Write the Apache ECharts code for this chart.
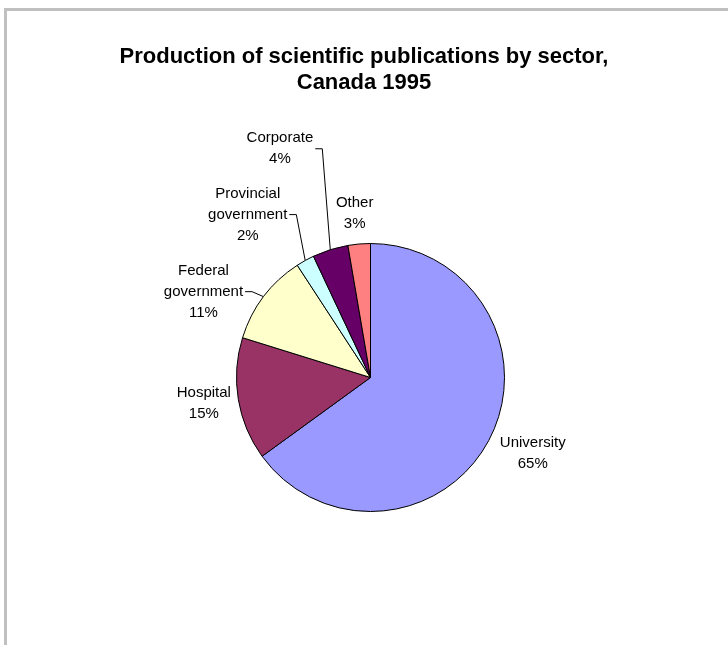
<!DOCTYPE html>
<html>
<head>
<meta charset="utf-8">
<script src="https://cdn.jsdelivr.net/npm/echarts@6/dist/echarts.min.js"></script>
<style>
html, body { margin: 0; padding: 0; background: #fff; }
#main { width: 728px; height: 645px; }
</style>
</head>
<body>
<div id="main"></div>
<script>
var sectors = ['University', 'Hospital', 'Federal government', 'Provincial government', 'Corporate', 'Other'];
var shares = [65.0, 14.8, 11.0, 2.2, 4.3, 2.7];
var colors = ['#9999ff', '#993366', '#ffffcc', '#ccffff', '#660066', '#ff8080'];

// where Excel put each label: angle (deg, clockwise from top) and distance from centre
var labelAngle = [115, 261.3, 297.2, 323, 338.4, 354.5];
var labelDist = [179, 168.6, 187.8, 204, 246, 165];
var hasLeader = [false, false, true, true, true, false];

var cx = 370.5, cy = 377.5, R = 134;
var total = shares.reduce(function (a, b) { return a + b; }, 0);

function midAngle(i) {
	var s = 0;
	for (var k = 0; k < i; k++) s += shares[k];
	return (s + shares[i] / 2) / total * 360;
}
function polar(deg, r) {
	var a = deg * Math.PI / 180;
	return [cx + r * Math.sin(a), cy - r * Math.cos(a)];
}

var chart = echarts.init(document.getElementById('main'));
chart.setOption({
	animation: false,
	title: {
		text: 'Production of scientific publications by sector,\nCanada 1995',
		left: 'center',
		top: 39,
		padding: [5, 0, 5, 8],
		textStyle: {
			fontFamily: 'Liberation Sans, Arial, sans-serif',
			fontSize: 22,
			fontWeight: 'bold',
			color: '#000',
			lineHeight: 26
		}
	},
	graphic: [
		{ type: 'rect', shape: { x: 4, y: 8, width: 724, height: 3 }, style: { fill: '#c0c0c0' }, silent: true },
		{ type: 'rect', shape: { x: 4, y: 8, width: 3, height: 637 }, style: { fill: '#c0c0c0' }, silent: true }
	],
	series: [{
		type: 'pie',
		center: [cx, cy],
		radius: R,
		startAngle: 90,
		clockwise: true,
		avoidLabelOverlap: false,
		emphasis: { disabled: true },
		itemStyle: { borderColor: '#000', borderWidth: 1 },
		label: {
			position: 'outside',
			fontFamily: 'Liberation Sans, Arial, sans-serif',
			fontSize: 15,
			lineHeight: 21,
			color: '#000',
			formatter: function (p) {
				return p.name.replace(' ', '\n') + '\n' + Math.round(p.percent) + '%';
			}
		},
		labelLine: { show: false },
		labelLayout: function (params) {
			var i = params.dataIndex;
			var pos = polar(labelAngle[i], labelDist[i]);
			var out = { x: pos[0], y: pos[1], align: 'center', verticalAlign: 'middle' };
			if (hasLeader[i]) {
				var w = params.labelRect.width;
				var x0 = pos[0] + w / 2 + 2;
				var edge = polar(midAngle(i), R);
				out.labelLinePoints = [[x0, pos[1]], [x0 + 7, pos[1]], edge];
			}
			return out;
		},
		data: sectors.map(function (name, i) {
			return {
				name: name,
				value: shares[i],
				itemStyle: { color: colors[i] },
				labelLine: { show: hasLeader[i], length: 5, length2: 5, lineStyle: { color: '#000', width: 1 } }
			};
		})
	}]
});
</script>
</body>
</html>
